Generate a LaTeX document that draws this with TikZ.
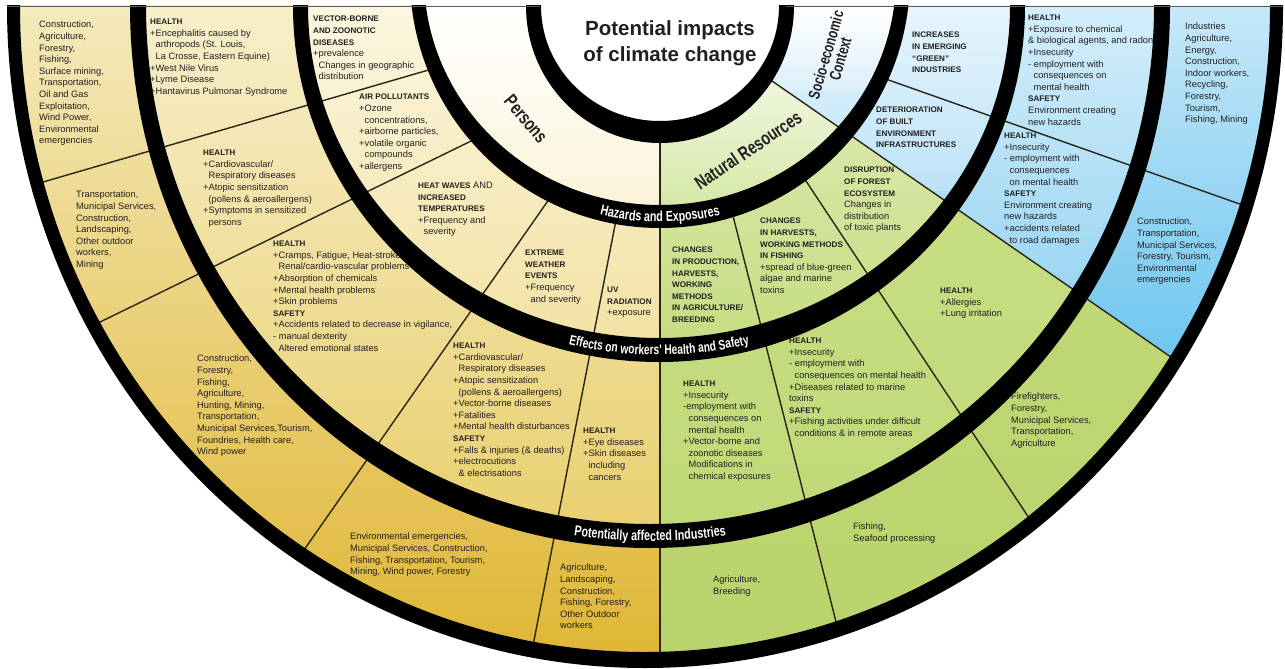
\documentclass[tikz,border=0pt]{standalone}
\usepackage{fontspec}
\setmainfont{Liberation Sans}
\newfontfamily\condfont{Liberation Sans}[FakeStretch=0.74]
\usepackage{tikz}
\usetikzlibrary{decorations.text}

\definecolor{ink}{HTML}{231F20}
\definecolor{divcol}{HTML}{2A2418}
\definecolor{yelA}{HTML}{F4EABB}\definecolor{yelB}{HTML}{DFB532}
\definecolor{yelC}{HTML}{F7EFCB}\definecolor{yelD}{HTML}{E9CF6E}
\definecolor{yelE}{HTML}{FBF6E0}\definecolor{yelF}{HTML}{F2E2A2}
\definecolor{yelG}{HTML}{FFFFFF}\definecolor{yelH}{HTML}{FAF3D6}
\definecolor{grnA}{HTML}{C4DB7C}\definecolor{grnB}{HTML}{B9D36C}
\definecolor{grnC}{HTML}{CBE08A}\definecolor{grnD}{HTML}{C0D977}
\definecolor{grnE}{HTML}{E2EFC0}\definecolor{grnF}{HTML}{C6DC80}
\definecolor{grnG}{HTML}{FFFFFF}\definecolor{grnH}{HTML}{D2E6A0}
\definecolor{bluA}{HTML}{C6E8F9}\definecolor{bluB}{HTML}{5CBFEC}
\definecolor{bluC}{HTML}{D3EEFB}\definecolor{bluD}{HTML}{9AD5F2}
\definecolor{bluE}{HTML}{E6F5FD}\definecolor{bluF}{HTML}{BDE3F7}
\definecolor{bluG}{HTML}{FFFFFF}\definecolor{bluH}{HTML}{DDF0FA}

% heading words and indent after a plus sign
\newcommand{\hdg}[1]{{\bfseries\fontsize{8.1}{11.6}\selectfont #1}}
\newcommand{\indsp}{\hphantom{+}}
\newcommand{\bandfont}{\condfont\bfseries\fontsize{14.5}{14.5}\selectfont}
\newcommand{\bandfontb}{\condfont\bfseries\fontsize{13.8}{13.8}\selectfont}

% one ring of colour: clip to ellipse, shade a strip
\newcommand{\ringshade}[7]{%
  \begin{scope}
    \clip (#1,-#2) ellipse [x radius=#3, y radius=#4];
    \shade[top color=#6, bottom color=#7] (0,-6) rectangle (1285,-#5);
  \end{scope}}
% thick black ring between two ellipses
\newcommand{\blackband}[6]{%
  \fill[black, even odd rule] (#1,-#2) ellipse [x radius=#3, y radius=#4]
    (#1,-#2) ellipse [x radius=#5, y radius=#6];}

\begin{document}
\begin{tikzpicture}[x=1pt, y=1pt,
    bodytxt/.style={anchor=north west, align=left, inner sep=0pt, text=ink,
      font=\fontsize{9.3}{11.6}\selectfont},
    divline/.style={line width=1.4pt, draw=divcol},
    catlabel/.style={font=\condfont\bfseries\fontsize{19}{17}\selectfont,
      align=center, inner sep=0pt, text=ink},
    titletxt/.style={font=\bfseries\fontsize{20.5}{26}\selectfont,
      align=center, inner sep=0pt, anchor=north, text=ink},
    bandtext/.style={decorate, decoration={text along path, text align=center,
      text color=white, text={#1}}}]

    \useasboundingbox (0,0) rectangle (1285,-669);

    \begin{scope}
    \clip (0,-6) rectangle (1285,-669);

    % Yellow half (persons)
    \begin{scope}
        \clip (0,-6) -- (660,-6) -- (660,-669) -- (0,-669) -- cycle;
        \ringshade{645}{6}{632}{654}{669}{yelA}{yelB}
        \ringshade{650}{6}{512}{530}{536}{yelC}{yelD}
        \ringshade{659}{6}{358}{344}{350}{yelE}{yelF}
        \ringshade{660}{-23}{243}{240}{222}{yelG}{yelH}
    \end{scope}

    % Green part (natural resources)
    \begin{scope}
        \clip (660,-4) -- (660,-669) -- (1285,-669) -- (1285,-436) -- cycle;
        \ringshade{645}{6}{632}{654}{669}{grnA}{grnB}
        \ringshade{650}{6}{512}{530}{536}{grnC}{grnD}
        \ringshade{659}{6}{358}{344}{350}{grnE}{grnF}
        \ringshade{660}{-23}{243}{240}{222}{grnG}{grnH}
    \end{scope}

    % Blue part (socio-economic context)
    \begin{scope}
        \clip (660,-4) -- (1285,-436) -- (1285,-6) -- (660,-6) -- cycle;
        \ringshade{645}{6}{632}{654}{430}{bluA}{bluB}
        \ringshade{650}{6}{512}{530}{300}{bluC}{bluD}
        \ringshade{659}{6}{358}{344}{190}{bluE}{bluF}
        \ringshade{660}{-23}{243}{240}{90}{bluG}{bluH}
    \end{scope}

    % Title area
    \fill[white] (660,-6) ellipse [x radius=122, y radius=118];

    % Dividers between the fields
    \begin{scope}
        \clip (645,-6) ellipse [x radius=632, y radius=654];
        \draw[divline] (432,-69) -- (0,-194.5);
        \draw[divline] (474,-139.6) -- (0,-370.8);
        \draw[divline] (552,-195) -- (290,-570);
        \draw[divline] (617,-215) -- (530,-661);
        \draw[divline] (660,-130) -- (660,-669);
        \draw[divline] (731,-208) -- (848,-669);
        \draw[divline] (800,-172) -- (1129,-669);
        \draw[divline] (759,-72) -- (1285,-436);
        \draw[divline] (880,-77) -- (1285,-220);
    \end{scope}

    % Black rings
    \blackband{660}{6}{134}{137}{119}{115}
    \blackband{660}{-23}{250}{251}{236}{228}
    \blackband{659}{6}{366}{356}{351}{332}
    \blackband{650}{6}{520}{542}{504}{518}
    \blackband{645}{6}{638}{662}{625}{646}
    \end{scope}

    % Top edge
    \draw[gray!70!black, line width=0.8pt] (7,-6) -- (540,-6);
    \draw[gray!70!black, line width=0.8pt] (786,-6) -- (1283,-6);

    % Ring labels
    \path[bandtext={|\bandfont|Hazards and Exposures}]
        ([shift={(660,23)}]240:248 and 245) arc[start angle=240, end angle=300, x radius=248, y radius=245];
    \path[bandtext={|\bandfontb|Effects on workers' Health and Safety}]
        ([shift={(659,-6)}]235:363 and 349) arc[start angle=235, end angle=305, x radius=363, y radius=349];
    \path[bandtext={|\bandfont|Potentially affected Industries}]
        ([shift={(650,-6)}]245:517 and 535) arc[start angle=245, end angle=295, x radius=517, y radius=535];

    % Title and sectors
    \node[titletxt] (title) at (670,-20) {Potential impacts\\of climate change};
    \node[catlabel, rotate=-50] (persons) at (526,-119) {Persons};
    \node[catlabel, rotate=34] (natres) at (748,-150) {Natural Resources};
    \node[catlabel, rotate=74, font=\condfont\bfseries\fontsize{16}{15}\selectfont] (socio) at (833,-57) {Socio-economic\\Context};

    % Hazards and exposures
    \node[bodytxt] (hazLa) at (313,-16) {\hdg{VECTOR-BORNE}\\\hdg{AND ZOONOTIC}\\\hdg{DISEASES}\\+prevalence\\\indsp Changes in geographic\\\indsp distribution};
    \node[bodytxt] (hazLb) at (359,-94) {\hdg{AIR POLLUTANTS}\\+Ozone\\\indsp concentrations,\\+airborne particles,\\+volatile organic\\\indsp compounds\\+allergens};
    \node[bodytxt] (hazLc) at (418,-182) {\hdg{HEAT WAVES} AND\\\hdg{INCREASED}\\\hdg{TEMPERATURES}\\+Frequency and\\\indsp severity};
    \node[bodytxt] (hazLd) at (525,-250) {\hdg{EXTREME}\\\hdg{WEATHER}\\\hdg{EVENTS}\\+Frequency\\\indsp and severity};
    \node[bodytxt] (hazLe) at (607,-287) {\hdg{UV}\\\hdg{RADIATION}\\+exposure};
    \node[bodytxt] (hazRa) at (672,-247) {\hdg{CHANGES}\\\hdg{IN PRODUCTION,}\\\hdg{HARVESTS,}\\\hdg{WORKING}\\\hdg{METHODS}\\\hdg{IN AGRICULTURE/}\\\hdg{BREEDING}};
    \node[bodytxt] (hazRb) at (760,-218) {\hdg{CHANGES}\\\hdg{IN HARVESTS,}\\\hdg{WORKING METHODS}\\\hdg{IN FISHING}\\+spread of blue-green\\algae and marine\\toxins};
    \node[bodytxt] (hazRc) at (844,-167) {\hdg{DISRUPTION}\\\hdg{OF FOREST}\\\hdg{ECOSYSTEM}\\Changes in\\distribution\\of toxic plants};
    \node[bodytxt] (hazRd) at (876,-107) {\hdg{DETERIORATION}\\\hdg{OF BUILT}\\\hdg{ENVIRONMENT}\\\hdg{INFRASTRUCTURES}};
    \node[bodytxt] (hazRe) at (912,-32) {\hdg{INCREASES}\\\hdg{IN EMERGING}\\\hdg{``GREEN''}\\\hdg{INDUSTRIES}};

    % Effects on health and safety
    \node[bodytxt] (effLa) at (150,-19) {\hdg{HEALTH}\\+Encephalitis caused by\\\indsp arthropods (St. Louis,\\\indsp La Crosse, Eastern Equine)\\+West Nile Virus\\+Lyme Disease\\+Hantavirus Pulmonar Syndrome};
    \node[bodytxt] (effLb) at (203,-150) {\hdg{HEALTH}\\+Cardiovascular/\\\indsp Respiratory diseases\\+Atopic sensitization\\\indsp (pollens \& aeroallergens)\\+Symptoms in sensitized\\\indsp persons};
    \node[bodytxt] (effLc) at (273,-241) {\hdg{HEALTH}\\+Cramps, Fatigue, Heat-stroke,\\\indsp Renal/cardio-vascular problems\\+Absorption of chemicals\\+Mental health problems\\+Skin problems\\\hdg{SAFETY}\\+Accidents related to decrease in vigilance,\\- manual dexterity\\\indsp Altered emotional states};
    \node[bodytxt] (effLd) at (453,-343) {\hdg{HEALTH}\\+Cardiovascular/\\\indsp Respiratory diseases\\+Atopic sensitization\\\indsp (pollens \& aeroallergens)\\+Vector-borne diseases\\+Fatalities\\+Mental health disturbances\\\hdg{SAFETY}\\+Falls \& injuries (\& deaths)\\+electrocutions\\\indsp \& electrisations};
    \node[bodytxt] (effLe) at (583,-428) {\hdg{HEALTH}\\+Eye diseases\\+Skin diseases\\\indsp including\\\indsp cancers};
    \node[bodytxt] (effRa) at (683,-381) {\hdg{HEALTH}\\+Insecurity\\-employment with\\\indsp consequences on\\\indsp mental health\\+Vector-borne and\\\indsp zoonotic diseases\\\indsp Modifications in\\\indsp chemical exposures};
    \node[bodytxt] (effRb) at (789,-338) {\hdg{HEALTH}\\+Insecurity\\- employment with\\\indsp consequences on mental health\\+Diseases related to marine\\toxins\\\hdg{SAFETY}\\+Fishing activities under difficult\\\indsp conditions \& in remote areas};
    \node[bodytxt] (effRc) at (940,-288) {\hdg{HEALTH}\\+Allergies\\+Lung irritation};
    \node[bodytxt] (effRd) at (1004,-133) {\hdg{HEALTH}\\+Insecurity\\- employment with\\\indsp consequences\\\indsp on mental health\\\hdg{SAFETY}\\Environment creating\\new hazards\\+accidents related\\\indsp to road damages};
    \node[bodytxt] (effRe) at (1028,-15) {\hdg{HEALTH}\\+Exposure to chemical\\\& biological agents, and radon\\+Insecurity\\- employment with\\\indsp consequences on\\\indsp mental health\\\hdg{SAFETY}\\Environment creating\\new hazards};

    % Potentially affected industries
    \node[bodytxt] (indLa) at (39,-21) {Construction,\\Agriculture,\\Forestry,\\Fishing,\\Surface mining,\\Transportation,\\Oil and Gas\\Exploitation,\\Wind Power,\\Environmental\\emergencies};
    \node[bodytxt] (indLb) at (76,-191) {Transportation,\\Municipal Services,\\Construction,\\Landscaping,\\Other outdoor\\workers,\\Mining};
    \node[bodytxt] (indLc) at (197,-355) {Construction,\\Forestry,\\Fishing,\\Agriculture,\\Hunting, Mining,\\Transportation,\\Municipal Services,Tourism,\\Foundries, Health care,\\Wind power};
    \node[bodytxt] (indLd) at (350,-533) {Environmental emergencies,\\Municipal Services, Construction,\\Fishing, Transportation, Tourism,\\Mining, Wind power, Forestry};
    \node[bodytxt] (indLe) at (560,-564) {Agriculture,\\Landscaping,\\Construction,\\Fishing, Forestry,\\Other Outdoor\\workers};
    \node[bodytxt] (indRa) at (713,-576) {Agriculture,\\Breeding};
    \node[bodytxt] (indRb) at (853,-523) {Fishing,\\Seafood processing};
    \node[bodytxt] (indRc) at (1011,-393) {Firefighters,\\Forestry,\\Municipal Services,\\Transportation,\\Agriculture};
    \node[bodytxt] (indRd) at (1137,-218) {Construction,\\Transportation,\\Municipal Services,\\Forestry, Tourism,\\Environmental\\emergencies};
    \node[bodytxt] (indRe) at (1185,-23) {Industries\\Agriculture,\\Energy,\\Construction,\\Indoor workers,\\Recycling,\\Forestry,\\Tourism,\\Fishing, Mining};

\end{tikzpicture}
\end{document}
